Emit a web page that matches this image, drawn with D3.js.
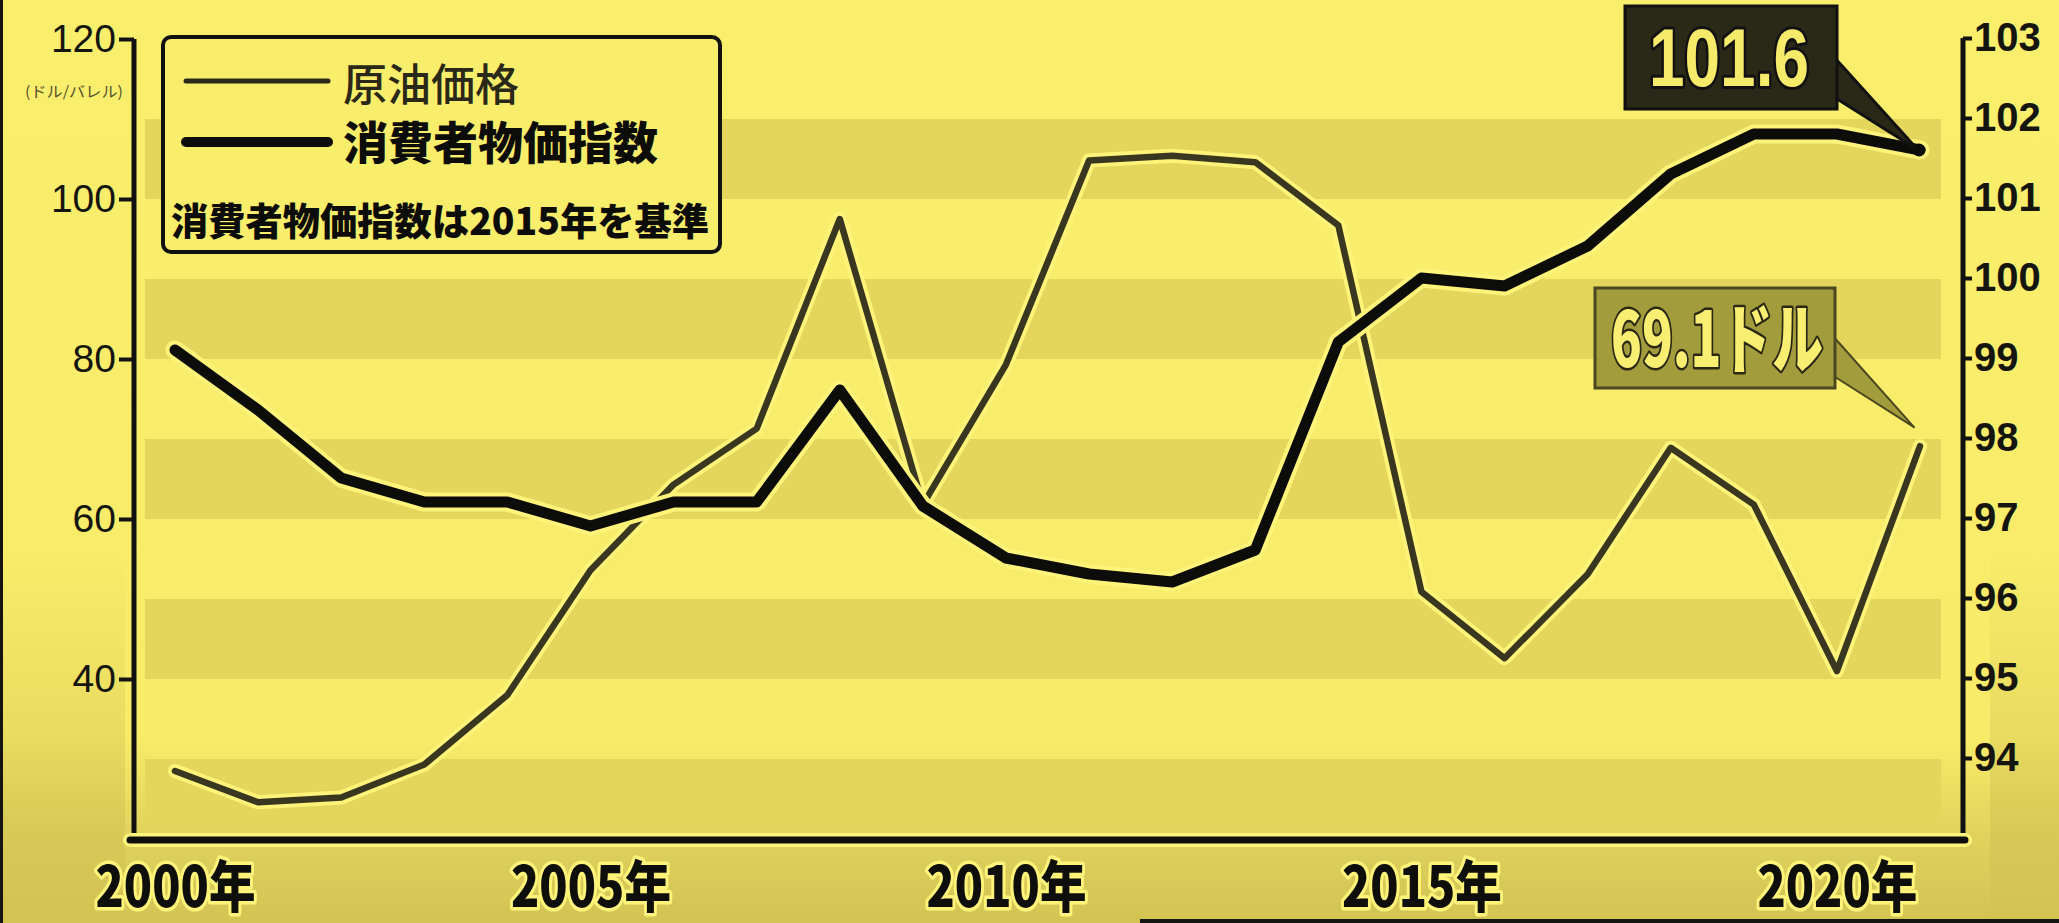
<!DOCTYPE html>
<html>
<head>
<meta charset="utf-8">
<script src="https://cdn.jsdelivr.net/npm/d3@7"></script>
<style>
  html, body { margin: 0; padding: 0; background: #f6ea68; }
  svg { display: block; }
</style>
</head>
<body>
<svg id="chart" width="2059" height="923"></svg>
<script>
// Years on the x axis
const years = [2000, 2001, 2002, 2003, 2004, 2005, 2006, 2007, 2008, 2009, 2010,
               2011, 2012, 2013, 2014, 2015, 2016, 2017, 2018, 2019, 2020, 2021];
// Crude oil price (USD per barrel), left axis
const oilPrice = [28.5, 24.6, 25.2, 29.3, 38.0, 53.6, 64.3, 71.3, 97.5, 61.8, 79.3,
                  104.8, 105.4, 104.6, 96.7, 50.9, 42.6, 53.1, 68.9, 61.8, 41.0, 69.1];
// Consumer price index (2015 = 100), right axis
const cpi = [99.1, 98.35, 97.5, 97.2, 97.2, 96.9, 97.2, 97.2, 98.6, 97.15, 96.5,
             96.3, 96.2, 96.6, 99.2, 100.0, 99.9, 100.4, 101.3, 101.8, 101.8, 101.6];

const xTicks = [2000, 2005, 2010, 2015, 2020];
const leftTicks = [40, 60, 80, 100, 120];
const rightTicks = [94, 95, 96, 97, 98, 99, 100, 101, 102, 103];
// Shaded horizontal bands on the left-axis scale
const bandRanges = [[20, 30], [40, 50], [60, 70], [80, 90], [100, 110]];

const legendLabels = ["原油価格", "消費者物価指数"];
const legendNote = "消費者物価指数は2015年を基準";
const leftUnit = "(ドル/バレル)";

const svg = d3.select("#chart");
const W = 2059, H = 923;

const x = d3.scaleLinear().domain([2000, 2021]).range([175, 1920]);
const yL = d3.scaleLinear().domain([20, 120]).range([839, 39]);
const yR = d3.scaleLinear().domain([93, 103]).range([838, 38]);

const plotLeft = 134, plotRight = 1963, plotBottom = 840;
const CJK = "'Noto Sans CJK JP', 'Noto Sans', sans-serif";
const halo = "#fff37a";

// ---- background ----
const defs = svg.append("defs");
const bg = defs.append("linearGradient").attr("id", "bg").attr("x1", 0).attr("y1", 0).attr("x2", 0).attr("y2", 1);
bg.append("stop").attr("offset", "0").attr("stop-color", "#faef6d");
bg.append("stop").attr("offset", "0.80").attr("stop-color", "#f7eb69");
bg.append("stop").attr("offset", "0.92").attr("stop-color", "#ddcf5b");
bg.append("stop").attr("offset", "1").attr("stop-color", "#d2c353");
svg.append("rect").attr("width", W).attr("height", H).attr("fill", "url(#bg)");

const side = defs.append("linearGradient").attr("id", "side").attr("x1", 0).attr("y1", 0).attr("x2", 0).attr("y2", 1);
side.append("stop").attr("offset", "0").attr("stop-color", "#d2c353").attr("stop-opacity", 0);
side.append("stop").attr("offset", "0.6").attr("stop-color", "#d2c353").attr("stop-opacity", 0);
side.append("stop").attr("offset", "1").attr("stop-color", "#d2c353").attr("stop-opacity", 0.8);
svg.append("rect").attr("x", 0).attr("y", 0).attr("width", 125).attr("height", H).attr("fill", "url(#side)");
svg.append("rect").attr("x", 1990).attr("y", 0).attr("width", 69).attr("height", H).attr("fill", "url(#side)");

// ---- bands ----
svg.append("g").selectAll("rect").data(bandRanges).join("rect")
  .attr("x", 145)
  .attr("width", 1941 - 145)
  .attr("y", d => yL(d[1]))
  .attr("height", d => Math.min(yL(d[0]), 826) - yL(d[1]))
  .attr("fill", "#e4d65c");

// ---- axes ----
function styleAxis(g, fontFamily, fontSize, weight) {
  g.select(".domain").attr("stroke", "#111").attr("stroke-width", 5);
  g.selectAll(".tick line").attr("stroke", "#111").attr("stroke-width", 4);
  g.selectAll(".tick text")
    .attr("fill", "#151510")
    .style("font-family", fontFamily)
    .style("font-size", fontSize + "px")
    .style("font-weight", weight);
}

const leftAxis = svg.append("g").attr("transform", `translate(${plotLeft},0)`)
  .call(d3.axisLeft(yL).tickValues(leftTicks).tickSize(15).tickSizeOuter(0).tickPadding(3).tickFormat(d3.format("d")));
styleAxis(leftAxis, "'Liberation Sans', Arial, sans-serif", 39, 400);
leftAxis.select(".domain").attr("d", `M0,${yL(120)}V${plotBottom}`);

const rightAxis = svg.append("g").attr("transform", `translate(${plotRight},0)`)
  .call(d3.axisRight(yR).tickValues(rightTicks).tickSize(9).tickSizeOuter(0).tickPadding(2).tickFormat(d3.format("d")));
styleAxis(rightAxis, "'Liberation Sans', Arial, sans-serif", 40, 700);
rightAxis.select(".domain").attr("d", `M0,${yR(103)}V${plotBottom}`);

// bottom axis line
svg.append("line").attr("x1", plotLeft - 4).attr("x2", plotRight + 2)
  .attr("y1", plotBottom).attr("y2", plotBottom)
  .attr("stroke", halo).attr("stroke-width", 14).attr("stroke-linecap", "round");
svg.append("line").attr("x1", plotLeft - 4).attr("x2", plotRight + 2)
  .attr("y1", plotBottom).attr("y2", plotBottom)
  .attr("stroke", "#0e0e0a").attr("stroke-width", 7).attr("stroke-linecap", "round");

const bottomAxis = svg.append("g").attr("transform", `translate(0,${plotBottom})`)
  .call(d3.axisBottom(x).tickValues(xTicks).tickSize(0).tickPadding(0).tickFormat(d => d + "年"));
bottomAxis.select(".domain").remove();
bottomAxis.selectAll(".tick text")
  .attr("y", 67).attr("dy", 0)
  .attr("fill", "#0e0e0a")
  .attr("stroke", halo).attr("stroke-width", 7).attr("paint-order", "stroke")
  .attr("stroke-linejoin", "round")
  .attr("textLength", 160).attr("lengthAdjust", "spacingAndGlyphs")
  .style("font-family", CJK).style("font-size", "56px").style("font-weight", 900);

// unit label under 120
svg.append("text").attr("x", 74).attr("y", 97).attr("text-anchor", "middle")
  .attr("fill", "#55522c").attr("textLength", 98).attr("lengthAdjust", "spacingAndGlyphs")
  .style("font-family", CJK).style("font-size", "15px")
  .text(leftUnit);

// ---- lines ----
const oilLine = d3.line().x((d, i) => x(years[i])).y(d => yL(d));
const cpiLine = d3.line().x((d, i) => x(years[i])).y(d => yR(d));

svg.append("path").datum(oilPrice).attr("d", oilLine).attr("fill", "none")
  .attr("stroke", halo).attr("stroke-width", 14).attr("stroke-linejoin", "round").attr("stroke-linecap", "round");
svg.append("path").datum(oilPrice).attr("d", oilLine).attr("fill", "none")
  .attr("stroke", "#3a3720").attr("stroke-width", 6.5).attr("stroke-linejoin", "round").attr("stroke-linecap", "round");

svg.append("path").datum(cpi).attr("d", cpiLine).attr("fill", "none")
  .attr("stroke", halo).attr("stroke-width", 19).attr("stroke-linejoin", "round").attr("stroke-linecap", "round");
svg.append("path").datum(cpi).attr("d", cpiLine).attr("fill", "none")
  .attr("stroke", "#0c0c08").attr("stroke-width", 11).attr("stroke-linejoin", "round").attr("stroke-linecap", "round");

// ---- legend ----
const lg = svg.append("g");
lg.append("rect").attr("x", 163).attr("y", 37).attr("width", 557).attr("height", 215).attr("rx", 8)
  .attr("fill", "#f9ee6b").attr("stroke", "#111").attr("stroke-width", 4);
lg.append("line").attr("x1", 186).attr("x2", 328).attr("y1", 81).attr("y2", 81)
  .attr("stroke", "#2a2818").attr("stroke-width", 5).attr("stroke-linecap", "round");
lg.append("line").attr("x1", 186).attr("x2", 328).attr("y1", 142).attr("y2", 142)
  .attr("stroke", "#0c0c08").attr("stroke-width", 10).attr("stroke-linecap", "round");
lg.append("text").attr("x", 343).attr("y", 101).attr("fill", "#2a2818")
  .attr("textLength", 176).attr("lengthAdjust", "spacingAndGlyphs")
  .style("font-family", CJK).style("font-size", "44px").style("font-weight", 500)
  .text(legendLabels[0]);
lg.append("text").attr("x", 343).attr("y", 160).attr("fill", "#0c0c08")
  .attr("textLength", 315).attr("lengthAdjust", "spacingAndGlyphs")
  .style("font-family", CJK).style("font-size", "45px").style("font-weight", 900)
  .text(legendLabels[1]);
lg.append("text").attr("x", 171).attr("y", 235).attr("fill", "#0c0c08")
  .attr("textLength", 538).attr("lengthAdjust", "spacingAndGlyphs")
  .style("font-family", CJK).style("font-size", "38px").style("font-weight", 900)
  .text(legendNote);

// ---- callouts ----
const last = years.length - 1;
const cpiEnd = [x(years[last]), yR(cpi[last])];
const oilEnd = [x(years[last]), yL(oilPrice[last])];

// CPI value callout
svg.append("polygon")
  .attr("points", [[1834, 57], [1834, 97], [cpiEnd[0] - 2, cpiEnd[1]]].map(p => p.join(",")).join(" "))
  .attr("fill", "#2a2816").attr("stroke", "#111").attr("stroke-width", 3).attr("stroke-linejoin", "round");
svg.append("circle").attr("cx", cpiEnd[0] - 1).attr("cy", cpiEnd[1]).attr("r", 6.5).attr("fill", "#0c0c08");
svg.append("rect").attr("x", 1625).attr("y", 6).attr("width", 212).attr("height", 103)
  .attr("fill", "#2a2816").attr("stroke", "#111").attr("stroke-width", 3);
svg.append("text").attr("x", 1729).attr("y", 86).attr("text-anchor", "middle")
  .attr("fill", "#f6ea6a").attr("stroke", "#111").attr("stroke-width", 6).attr("paint-order", "stroke")
  .attr("stroke-linejoin", "round")
  .attr("textLength", 160).attr("lengthAdjust", "spacingAndGlyphs")
  .style("font-family", "'Liberation Sans', Arial, sans-serif").style("font-size", "82px").style("font-weight", 700)
  .text(d3.format(".1f")(cpi[last]));

// Oil price callout
svg.append("polygon")
  .attr("points", [[1832, 335], [1832, 375], [oilEnd[0] - 6, oilEnd[1] - 19]].map(p => p.join(",")).join(" "))
  .attr("fill", "#a39c3c").attr("stroke", "#4b4720").attr("stroke-width", 2).attr("stroke-linejoin", "round");
svg.append("rect").attr("x", 1595).attr("y", 288).attr("width", 240).attr("height", 100)
  .attr("fill", "#a39c3c").attr("stroke", "#4b4720").attr("stroke-width", 3);
svg.append("text").attr("x", 1717).attr("y", 367).attr("text-anchor", "middle")
  .attr("fill", "#f8ee72").attr("stroke", "#2a2814").attr("stroke-width", 5).attr("paint-order", "stroke")
  .attr("stroke-linejoin", "round")
  .attr("textLength", 212).attr("lengthAdjust", "spacingAndGlyphs")
  .style("font-family", CJK).style("font-size", "76px").style("font-weight", 900)
  .text(d3.format(".1f")(oilPrice[last]) + "ドル");

// ---- frame edges ----
svg.append("rect").attr("x", 0).attr("y", 0).attr("width", 3).attr("height", H).attr("fill", "#141410");
svg.append("rect").attr("x", 1140).attr("y", 919).attr("width", W - 1140).attr("height", 4).attr("fill", "#141410");
</script>
</body>
</html>
